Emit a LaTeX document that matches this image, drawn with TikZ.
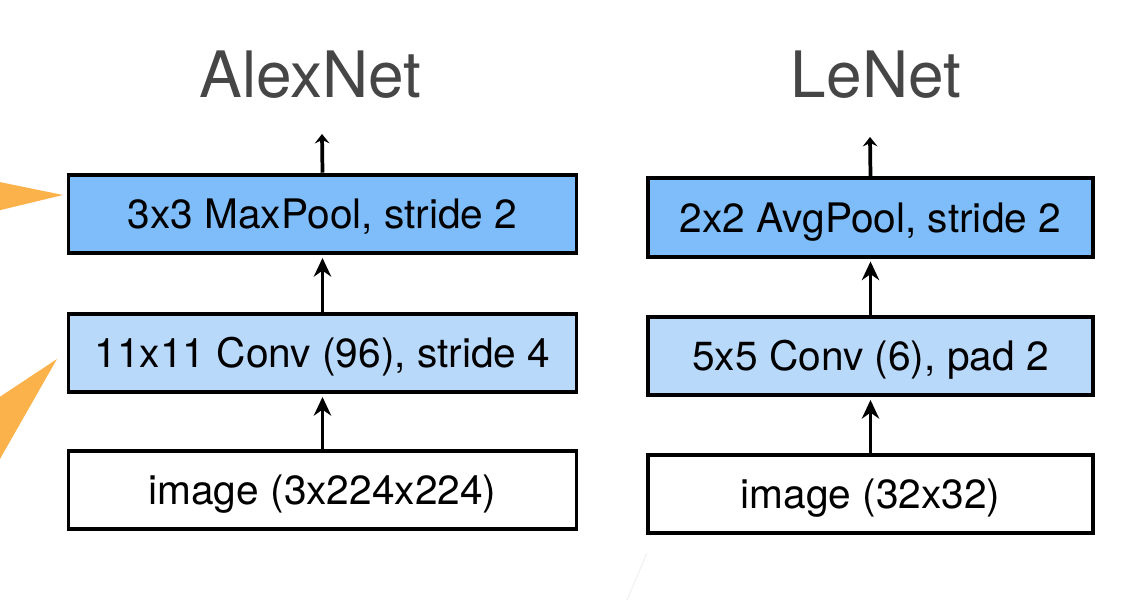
\documentclass[tikz,border=0pt]{standalone}
\usepackage{fontspec}
\setmainfont{TeX Gyre Heros}
\usetikzlibrary{arrows.meta}
\definecolor{pooldark}{HTML}{7EBDF9}
\definecolor{convlight}{HTML}{B9D9FB}
\definecolor{titlegray}{HTML}{464646}
\definecolor{accent}{HTML}{FCB24A}
\begin{document}
\begin{tikzpicture}[x=0.75pt,y=-0.75pt,
  layer/.style={draw=black,line width=2.9pt,minimum height=59pt,
    inner sep=0pt,text height=21.8pt,text depth=0pt,
    font=\fontsize{30.5}{34}\selectfont},
  wideL/.style={layer,minimum width=381pt},
  wideR/.style={layer,minimum width=334pt},
  pool/.style={fill=pooldark},
  conv/.style={fill=convlight},
  inp/.style={fill=white},
  title/.style={text=titlegray,font=\fontsize{48}{52}\selectfont,
    inner sep=0pt,text height=34.5pt,text depth=0pt},
  flow/.style={line width=2.8pt,-{Stealth[length=14pt,width=13pt,inset=4.5pt]},shorten >=2pt},
  outflow/.style={line width=2.8pt,-{Stealth[length=7pt,width=11pt,inset=2.5pt]}}]
\useasboundingbox (0,0) rectangle (1140,600);
\begin{scope}
\clip (0,0) rectangle (1140,600);
% orange pointers entering from the left edge
\fill[accent] (63,195) -- (-20,178) -- (-20,215) -- cycle;
\fill[accent] (57,359) -- (-20,410) -- (-20,494) -- cycle;
% faint stray stroke
\draw[gray!12,line width=0.8pt] (647,553) -- (627,600);
\end{scope}

% titles
\node[title] (tA) at (310.5,74.7) {AlexNet};
\node[title] (tL) at (876,74.7) {LeNet};

% AlexNet column
\node[wideL,inp]  (aimg)  at (322.5,490) {image (3x224x224)};
\node[wideL,conv] (aconv) at (322.5,353) {11x11 Conv (96), stride 4};
\node[wideL,pool] (apool) at (322.5,214) {3x3 MaxPool, stride 2};
\coordinate (aout) at (322,134);

% LeNet column
\node[wideR,inp]  (limg)  at (870.5,494) {image (32x32)};
\node[wideR,conv] (lconv) at (870.5,356) {5x5 Conv (6), pad 2};
\node[wideR,pool] (lpool) at (870.5,217.5) {2x2 AvgPool, stride 2};
\coordinate (lout) at (870,137);

% connectors
\draw[flow] (aimg.north) -- (aconv.south);
\draw[flow] (aconv.north) -- (apool.south);
\draw[outflow] (apool.north) -- (aout);
\draw[flow] (limg.north) -- (lconv.south);
\draw[flow] (lconv.north) -- (lpool.south);
\draw[outflow] (lpool.north) -- (lout);
\end{tikzpicture}
\end{document}
